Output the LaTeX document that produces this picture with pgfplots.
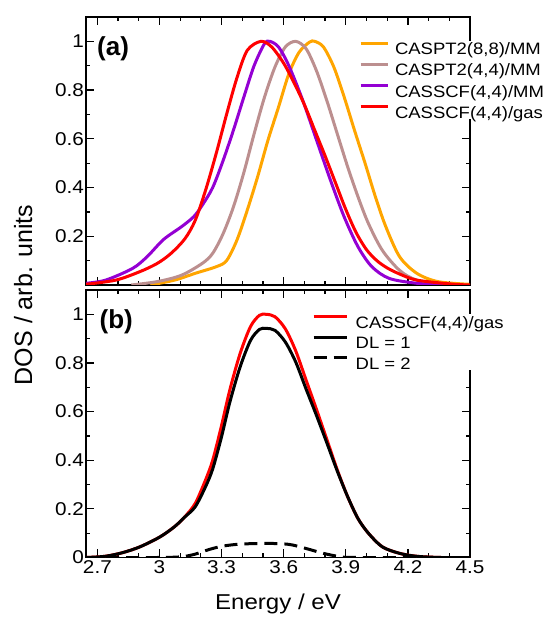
\documentclass[border=0pt]{standalone}
\usepackage{pgfplots}
\pgfplotsset{compat=1.18}
\usepackage{fontspec}
\setmainfont{Liberation Sans}
\newfontfamily\wfont{Liberation Sans}[FakeStretch=1.12]
\definecolor{cOrange}{RGB}{255,165,0}
\definecolor{cBrown}{RGB}{188,143,143}
\definecolor{cPurple}{RGB}{148,0,211}
\definecolor{cRed}{RGB}{255,0,0}
\pgfplotsset{
  common/.style={
    scale only axis, width=384pt,
    xmin=2.645, xmax=4.5, ymin=0, ymax=1.1,
    axis line style={line width=1.4pt},
    every tick/.style={black, line width=1.2pt},
    major tick length=8pt, minor tick length=4pt,
    tick align=inside, xtick pos=both, ytick pos=both,
    xtick={2.7,3,3.3,3.6,3.9,4.2,4.5},
    minor xtick={2.8,2.9,3.1,3.2,3.4,3.5,3.7,3.8,4.0,4.1,4.3,4.4},
    minor ytick={0.1,0.3,0.5,0.7,0.9},
    ticklabel style={font=\wfont\fontsize{18.5}{21}\selectfont},
    yticklabel style={xshift=1.5pt},
    /pgf/number format/assume math mode=true,
    legend cell align=left,
    every axis plot/.append style={line width=3pt, smooth},
  }
}
\begin{document}
\begin{tikzpicture}
\path[use as bounding box] (0pt,0pt) rectangle (544pt,618pt);
% ---- panel (a)
\begin{axis}[common, at={(86pt,333pt)}, anchor=south west, height=268pt,
  ytick={0.2,0.4,0.6,0.8,1}, xticklabels={},
  legend style={at={(0.708,0.912)}, anchor=north west, draw=none, fill=white,
    inner sep=1pt, font=\wfont\fontsize{16.5}{19}\selectfont,
    nodes={inner sep=0pt, text height=12pt, text depth=0pt},
    row sep=8.2pt, column sep=6pt},
  legend image code/.code={\draw[#1, line width=3pt] (0pt,5.5pt) -- (27pt,5.5pt);},
]
\addplot[cOrange] coordinates {
(2.956,0) (3.073,0.02) (3.173,0.048) (3.274,0.075) (3.324,0.10) (3.374,0.184)
(3.424,0.307) (3.474,0.444) (3.524,0.594) (3.575,0.73) (3.625,0.867) (3.675,0.956)
(3.725,0.997) (3.75,1.0) (3.792,0.977) (3.842,0.895) (3.892,0.772) (3.942,0.635)
(3.993,0.5) (4.043,0.362) (4.093,0.24) (4.16,0.116) (4.243,0.048) (4.344,0.014) (4.494,0.003)};
\addlegendentry{CASPT2(8,8)/MM}
\addplot[cBrown] coordinates {
(2.864,0) (2.99,0.014) (3.106,0.04) (3.207,0.089) (3.257,0.13) (3.307,0.21)
(3.357,0.32) (3.407,0.46) (3.457,0.62) (3.507,0.77) (3.558,0.895) (3.608,0.977)
(3.658,1.0) (3.708,0.97) (3.758,0.88) (3.808,0.758) (3.859,0.62) (3.909,0.485)
(3.959,0.362) (4.009,0.253) (4.076,0.143) (4.16,0.06) (4.243,0.02) (4.377,0.004) (4.45,0)};
\addlegendentry{CASPT2(4,4)/MM}
\addplot[cPurple] coordinates {
(2.645,0.007) (2.74,0.02) (2.87,0.068) (2.94,0.116) (3.02,0.187) (3.106,0.239)
(3.165,0.28) (3.207,0.328) (3.257,0.40) (3.307,0.51) (3.357,0.635) (3.407,0.77)
(3.457,0.90) (3.507,0.99) (3.533,1.0) (3.575,0.977) (3.625,0.90) (3.692,0.758)
(3.759,0.594) (3.826,0.43) (3.892,0.28) (3.959,0.157) (4.026,0.075) (4.11,0.027)
(4.243,0.007) (4.38,0)};
\addlegendentry{CASSCF(4,4)/MM}
\addplot[cRed] coordinates {
(2.645,0.003) (2.789,0.02) (2.906,0.055) (2.99,0.089) (3.056,0.13) (3.123,0.19)
(3.173,0.266) (3.223,0.39) (3.274,0.54) (3.324,0.70) (3.374,0.85) (3.424,0.963)
(3.49,1.0) (3.542,0.977) (3.60,0.91) (3.65,0.83) (3.70,0.74) (3.75,0.635)
(3.80,0.53) (3.85,0.42) (3.90,0.31) (3.95,0.215) (4.00,0.145) (4.05,0.1)
(4.10,0.07) (4.16,0.045) (4.243,0.02) (4.41,0.004) (4.5,0)};
\addlegendentry{CASSCF(4,4)/gas}
\node[anchor=west, font=\fontsize{26}{30}\selectfont\bfseries, inner sep=0pt] at (axis cs:2.698,0.968) {(a)};
\end{axis}
% ---- panel (b)
\begin{axis}[common, at={(86pt,60.5pt)}, anchor=south west, height=267.5pt,
  ytick={0,0.2,0.4,0.6,0.8,1},
  xlabel={Energy / eV},
  every axis x label/.style={at={(axis description cs:0.5,0)}, anchor=base,
    yshift=-51.5pt, font=\wfont\fontsize{21.5}{25}\selectfont},
  legend style={at={(0.586,0.911)}, anchor=north west, draw=none, fill=white,
    inner sep=1pt, font=\wfont\fontsize{16.5}{19}\selectfont,
    nodes={inner sep=0pt, text height=12pt, text depth=0pt},
    row sep=7.5pt, column sep=7.5pt},
  legend image code/.code={\draw[#1, line width=3pt] (0pt,5.5pt) -- (33pt,5.5pt);},
]
\addplot[cRed] coordinates {
(2.645,0) (2.738,0.005) (2.822,0.02) (2.906,0.044) (3.003,0.085) (3.073,0.127)
(3.123,0.168) (3.173,0.223) (3.223,0.32) (3.257,0.40) (3.299,0.54) (3.34,0.69)
(3.39,0.84) (3.44,0.95) (3.483,0.996) (3.516,1.0) (3.558,0.99) (3.608,0.94)
(3.658,0.85) (3.708,0.73) (3.758,0.61) (3.809,0.484) (3.859,0.36) (3.909,0.25)
(3.959,0.16) (4.009,0.1) (4.076,0.044) (4.16,0.017) (4.243,0.005) (4.36,0) (4.5,0)};
\addlegendentry{CASSCF(4,4)/gas}
\addplot[black] coordinates {
(2.645,0) (2.738,0.005) (2.822,0.02) (2.906,0.044) (3.003,0.085) (3.073,0.127)
(3.123,0.167) (3.173,0.209) (3.223,0.292) (3.257,0.364) (3.299,0.494) (3.34,0.639)
(3.39,0.785) (3.44,0.893) (3.483,0.938) (3.516,0.942) (3.558,0.934) (3.608,0.886)
(3.658,0.804) (3.708,0.693) (3.758,0.585) (3.809,0.47) (3.859,0.355) (3.909,0.25)
(3.959,0.16) (4.009,0.1) (4.076,0.044) (4.16,0.017) (4.243,0.005) (4.36,0) (4.5,0)};
\addlegendentry{DL = 1}
\addplot[black, dash pattern=on 13pt off 7pt] coordinates {
(2.645,0) (2.99,0) (3.106,0.003) (3.173,0.014) (3.24,0.033) (3.307,0.047) (3.39,0.055)
(3.516,0.058) (3.625,0.054) (3.708,0.037) (3.792,0.017) (3.876,0.003) (3.96,0) (4.5,0)};
\addlegendentry{DL = 2}
\node[anchor=west, font=\fontsize{26}{30}\selectfont\bfseries, inner sep=0pt] at (axis cs:2.71,0.97) {(b)};
\end{axis}
\node[rotate=90, anchor=base, inner sep=0pt, font=\fontsize{25}{30}\selectfont] at (32pt,323pt) {DOS / arb. units};
\end{tikzpicture}
\end{document}
